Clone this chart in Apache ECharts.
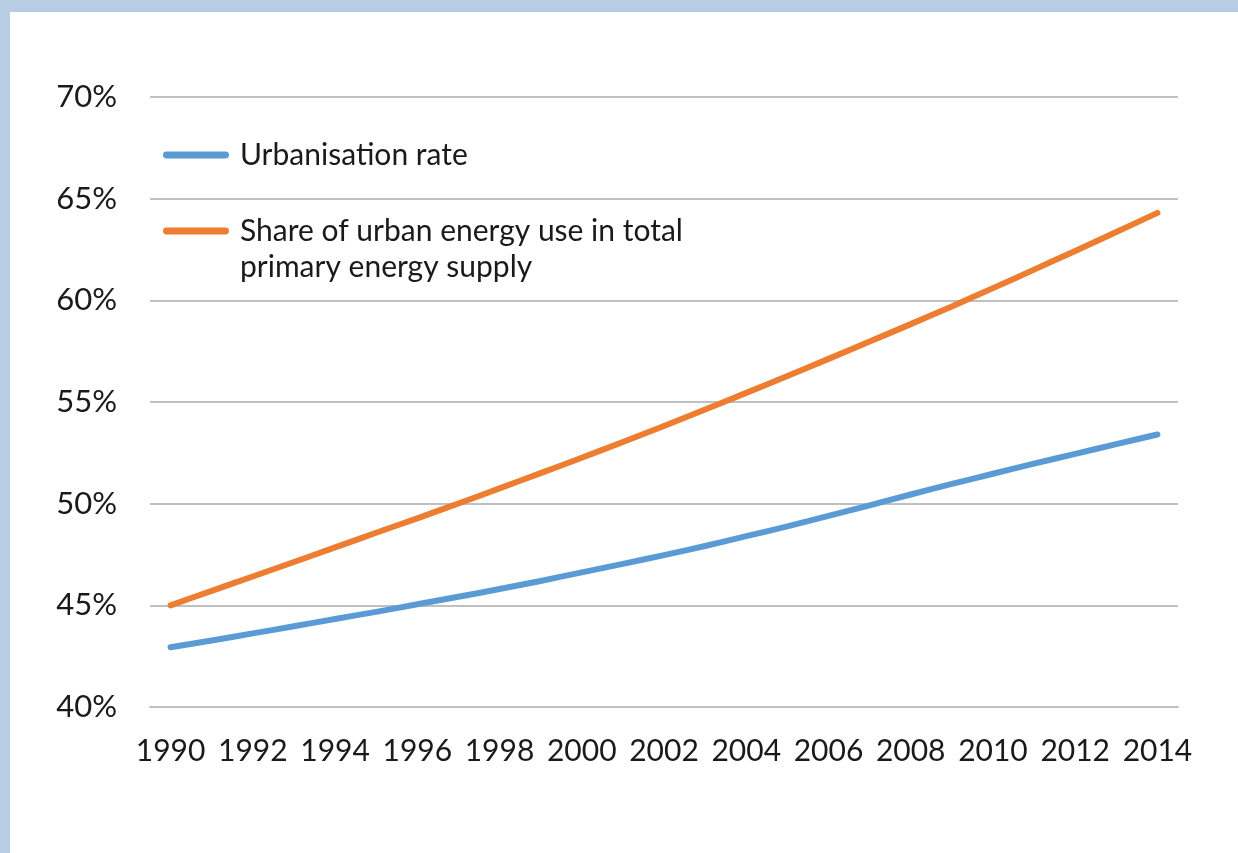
<!DOCTYPE html>
<html>
<head>
<meta charset="utf-8">
<script src="https://cdn.jsdelivr.net/npm/echarts@6/dist/echarts.min.js"></script>
<style>
  html, body { margin: 0; padding: 0; background: #b8cce4; }
  #frame { position: absolute; left: 10px; top: 12px; width: 1228px; height: 841px; background: #ffffff; }
  #chart { width: 1228px; height: 841px; }
</style>
</head>
<body>
<div id="frame"><div id="chart"></div></div>
<script>
// Years on the horizontal axis
const years = [
  '1990','1991','1992','1993','1994','1995','1996','1997','1998','1999',
  '2000','2001','2002','2003','2004','2005','2006','2007','2008','2009',
  '2010','2011','2012','2013','2014'
];

// Urbanisation rate, % of population
const urbanisationRate = [
  42.94, 43.27, 43.62, 43.97, 44.33, 44.68, 45.05, 45.42, 45.80, 46.20,
  46.62, 47.04, 47.47, 47.92, 48.40, 48.88, 49.40, 49.92, 50.45, 50.97,
  51.47, 51.97, 52.45, 52.93, 53.40
];

// Share of urban energy use in total primary energy supply, %
const urbanEnergyShare = [
  45.00, 45.71, 46.42, 47.13, 47.85, 48.57, 49.28, 50.01, 50.75, 51.50,
  52.26, 53.03, 53.82, 54.63, 55.45, 56.28, 57.12, 57.97, 58.83, 59.70,
  60.60, 61.51, 62.43, 63.36, 64.30
];

// Value axis range and step, in percent
const yMin = 40;
const yMax = 70;
const yStep = 5;

const seriesNames = ['Urbanisation rate', 'Share of urban energy use in total primary energy supply'];
const seriesColors = ['#5b9bd5', '#ed7d31'];

const fontFamily = 'Lato, "Open Sans", sans-serif';
const textColor = '#1a1a1a';
const gridColor = '#c0c0c0';

// rounded bar used as the legend key
const legendKey = 'path://M3,0 L63,0 A3.5,3.5 0 0 1 63,7 L3,7 A3.5,3.5 0 0 1 3,0 Z';

const chart = echarts.init(document.getElementById('chart'), null, { renderer: 'canvas' });

chart.setOption({
  animation: false,
  backgroundColor: '#ffffff',
  grid: { left: 140, right: 60, top: 85, bottom: 146 },
  legend: {
    orient: 'vertical',
    left: 153,
    top: 125,
    padding: 0,
    itemGap: 4,
    itemWidth: 66,
    itemHeight: 7,
    icon: legendKey,
    textStyle: {
      fontFamily: fontFamily,
      fontSize: 30,
      color: textColor,
      lineHeight: 36,
      padding: [0, 0, 0, 6]
    },
    formatter: function (name) {
      if (name === seriesNames[1]) {
        // blank first line keeps the key level with the first text line
        return '\u00a0\nShare of urban energy use in total\nprimary energy supply';
      }
      return name;
    },
    data: seriesNames
  },
  xAxis: {
    type: 'category',
    data: years,
    boundaryGap: true,
    axisTick: { show: false },
    axisLine: { show: true, lineStyle: { color: gridColor, width: 2 } },
    axisLabel: {
      interval: 1,
      margin: 29,
      fontFamily: fontFamily,
      fontSize: 30,
      color: textColor
    },
    splitLine: { show: false }
  },
  yAxis: {
    type: 'value',
    min: yMin,
    max: yMax,
    interval: yStep,
    axisLine: { show: false },
    axisTick: { show: false },
    axisLabel: {
      margin: 33,
      fontFamily: fontFamily,
      fontSize: 31,
      color: textColor,
      formatter: '{value}%'
    },
    splitLine: { show: true, lineStyle: { color: gridColor, width: 2 } }
  },
  series: [
    {
      name: seriesNames[0],
      type: 'line',
      data: urbanisationRate,
      showSymbol: false,
      symbol: 'none',
      smooth: 0.2,
      color: seriesColors[0],
      lineStyle: { width: 6, color: seriesColors[0], cap: 'round', join: 'round' },
      z: 3
    },
    {
      name: seriesNames[1],
      type: 'line',
      data: urbanEnergyShare,
      showSymbol: false,
      symbol: 'none',
      smooth: 0.2,
      color: seriesColors[1],
      lineStyle: { width: 6, color: seriesColors[1], cap: 'round', join: 'round' },
      z: 4
    }
  ]
});
</script>
</body>
</html>
